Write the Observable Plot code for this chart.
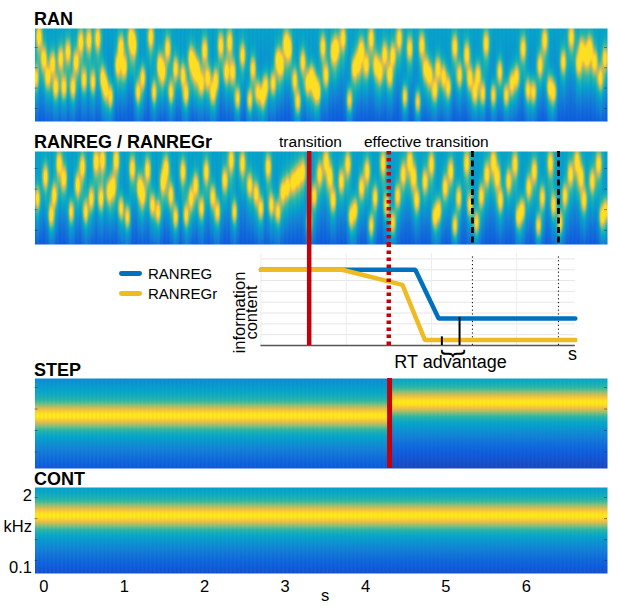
<!DOCTYPE html>
<html><head><meta charset="utf-8">
<script src="https://cdn.jsdelivr.net/npm/d3@7"></script>
<script src="https://cdn.jsdelivr.net/npm/@observablehq/plot@0.6"></script>
<style>
html,body{margin:0;padding:0;background:#fff;}
#fig{position:relative;width:617px;height:606px;overflow:hidden;font-family:"Liberation Sans",Arial,sans-serif;color:#000;}
.t{position:absolute;white-space:nowrap;line-height:1;}
</style></head><body><div id="fig"></div>
<script>
// ---------- data ----------
// RAN: tone pips (time s, frequency kHz)
const ranTimes = [-0.10,-0.06,0.00,0.05,0.11,0.15,0.21,0.25,0.30,0.36,0.40,0.46,0.50,0.56,0.61,0.67,0.73,0.77,0.83,0.92,0.96,1.00,1.08,1.12,1.17,1.23,1.33,1.37,1.44,1.48,1.54,1.58,1.64,1.73,1.77,1.83,1.87,1.91,1.96,2.00,2.04,2.10,2.14,2.20,2.27,
 2.31,2.35,2.41,2.47,2.56,2.60,2.66,2.72,2.76,2.85,2.91,2.95,3.01,3.05,3.12,3.16,3.22,3.28,3.33,3.37,3.41,3.47,3.51,3.60,3.64,3.72,3.80,3.86,3.91,3.95,4.01,4.07,4.13,4.18,4.24,4.30,4.34,4.42,4.49,4.55,4.65,4.70,
 4.75,4.80,4.86,4.90,4.97,5.03,5.11,5.17,5.26,5.30,5.36,5.40,5.46,5.50,5.59,5.67,5.75,5.82,5.88,5.96,6.02,6.09,6.17,6.23,6.29,6.34,6.46,6.56,6.65,6.69,6.75,6.79,6.85,6.92,6.98];
const ranFreqs = [0.70,2.85,1.36,0.73,1.15,0.51,1.36,0.51,1.70,0.51,1.21,2.39,0.65,2.54,0.61,2.69,0.70,0.49,0.37,1.08,2.02,1.02,2.69,2.14,0.43,0.70,2.85,0.43,1.08,0.86,1.91,0.43,0.96,0.77,0.41,1.36,1.02,0.86,0.58,1.81,0.70,0.43,0.65,2.14,0.86,
 2.39,0.86,0.35,1.52,0.33,0.96,0.43,0.37,0.54,0.58,1.28,1.08,2.26,1.91,0.65,0.31,1.21,0.58,0.73,0.51,0.43,2.02,0.77,1.70,1.91,2.69,0.33,0.96,1.21,1.81,1.08,2.69,1.08,0.86,1.57,0.77,1.52,2.69,0.37,1.91,0.31,2.14,
 0.96,0.77,0.46,0.96,0.73,0.51,2.02,0.77,1.57,0.70,0.43,0.77,0.41,2.26,0.39,0.86,0.39,0.58,0.73,1.91,0.46,0.43,1.08,2.54,0.51,0.43,1.21,2.85,1.15,1.81,1.44,1.91,1.21,0.70,1.36];
// RANREG: random part, then repeating cycles
const ranregTimes = [-0.08,0.02,0.09,0.13,0.19,0.25,0.34,0.42,0.48,0.52,0.59,0.65,0.71,0.73,0.81,0.86,0.90,0.96,1.04,1.10,1.19,1.23,1.29,1.35,1.42,1.48,1.52,1.58,1.64,1.73,1.77,1.83,1.89,1.96,2.02,2.10,2.16,2.25,2.33,2.37,2.47,2.56,2.64,2.70,2.79,2.83,2.91,2.97,3.03,3.10,3.16,3.22,
 3.30,3.36,3.43,3.51,3.56,3.60,3.70,3.78,3.82,3.87,3.95,4.02,4.07,4.12,4.22,4.26,
 4.34,4.40,4.47,4.55,4.60,4.64,4.74,4.82,4.86,4.91,4.99,5.06,5.11,5.16,5.26,5.30,
 5.38,5.44,5.51,5.59,5.64,5.68,5.78,5.86,5.90,5.95,6.03,6.10,6.15,6.20,6.30,6.34,
 6.42,6.48,6.55,6.63,6.68,6.72,6.82,6.90,6.94,6.99];
const ranregFreqs = [0.72,1.49,0.41,0.81,2.34,1.41,0.46,1.13,2.09,0.46,0.72,2.47,0.72,2.62,0.90,1.07,2.62,0.52,0.39,1.98,1.07,0.81,1.87,0.58,0.46,1.26,1.98,0.81,0.39,1.77,0.41,0.72,1.13,0.52,1.77,0.76,0.46,1.34,2.62,0.46,2.34,1.13,0.85,0.52,2.09,0.58,0.46,0.90,1.07,1.26,1.49,1.77,
 0.32,0.79,1.63,2.50,1.49,0.68,1.29,2.29,0.39,0.49,1.05,1.81,0.29,0.75,2.36,0.58,
 0.32,0.79,1.63,2.50,1.49,0.68,1.29,2.29,0.39,0.49,1.05,1.81,0.29,0.75,2.36,0.58,
 0.32,0.79,1.63,2.50,1.49,0.68,1.29,2.29,0.39,0.49,1.05,1.81,0.29,0.75,2.36,0.58,
 0.32,0.79,1.63,2.50,1.49,0.68,1.29,2.29,0.39,0.49];
const transitionTime = 3.30;
const effectiveTime = 4.29;
const cycleMarks = [5.33, 6.40];
// STEP and CONT
const stepTime = 4.30;
const stepFreqs = [0.81, 1.24];
const contFreq = 0.88;
const pipDuration = 0.05;
// tick values
const xTicks = [0, 1, 2, 3, 4, 5, 6];
const freqTicks = [2, 1, 0.5, 0.25];
const contTicks = [1.85, 0.77, 0.32, 0.135];
const contLabels = [2, 0.1];
// information content inset
const infoStart = 2.70, infoEnd = 6.61;
const infoGridY = [1, 2, 3, 4, 5, 6, 7, 8];
const infoGridX = [2.70, 3.76, 4.82, 5.88];
const regLineT = [2.70, 4.62, 4.91, 6.61];
const regLineV = [7, 7, 2.5, 2.5];
const regrLineT = [2.70, 3.71, 4.46, 4.74, 6.61];
const regrLineV = [7, 7, 5.6, 0.5, 0.5];
const rtMarkT = [4.95, 5.17];
const rtMarkV = [0.8, 2.6];

// ---------- styling / layout ----------
const parula = ["#352a87","#0f5cdd","#1481d6","#06a4ca","#2eb7a4","#87bf77","#d1bb59","#fec832","#f9fb0e"];
const parulaInterp = d3.piecewise(d3.interpolateRgb, parula);
const RED = "#c4000a", BLUE = "#0072bd", YEL = "#eebb22";
const W = 617, ML = 34.5, MR = 10;
const T0 = -0.11, T1 = 7.01;
const FONT = "'Liberation Sans', Arial, sans-serif";
const fig = document.getElementById("fig");
const sq = a => a * a;

function toneField(times, freqs, oBot, oTop, pxPerOct) {
  const lo = freqs.map(f => Math.log2(f));
  return (t, o) => {
    const yf = (oTop - o) / (oTop - oBot);
    let v = 0.38 - 0.24 * Math.pow(Math.max(0, yf), 1.3);
    let s = 0;
    for (let i = 0; i < times.length; ++i) {
      const dt = t - times[i];
      if (dt > 0.2 || dt < -0.2) continue;
      const dy = (o - lo[i]) * pxPerOct;
      const et = Math.exp(-sq(dt / 0.033));
      const eh = Math.exp(-sq(dt / 0.045));
      s += 0.52 * et * Math.exp(-sq(dy / 10)) + 0.24 * eh * Math.exp(-sq(dy / (dy > 0 ? 18 : 32)));
    }
    v += s;
    v -= 0.03 * (0.5 + 0.5 * Math.cos(2 * Math.PI * t / pipDuration));
    return Math.min(0.93, v);
  };
}
function bandField(centerAt, pxPerOct) {
  return (t, o) => {
    const d = (o - Math.log2(centerAt(t))) * pxPerOct;
    let v = 0.08 + 0.47 * Math.exp(-sq(d / 10.5)) + 0.42 * Math.exp(-sq(d / (d > 0 ? 46 : 38)));
    v -= 0.035 * (0.5 + 0.5 * Math.cos(2 * Math.PI * t / pipDuration));
    return v;
  };
}

function panel({top, height, oBot, oTop, field, ticks, extra = [], axes = false, mb = 0}) {
  const tl = 3 / ((W - ML - MR) / (T1 - T0));
  const marks = [
    Plot.raster({fill: field, x1: T0, x2: T1, y1: oBot, y2: oTop, width: Math.round(W - ML - MR), height}),
    Plot.ruleY(ticks, {y: d => Math.log2(d), x1: T0, x2: T0 + tl, stroke: "#333", strokeOpacity: 0.55}),
    Plot.ruleY(ticks, {y: d => Math.log2(d), x1: T1 - tl, x2: T1, stroke: "#333", strokeOpacity: 0.55}),
    ...extra
  ];
  if (axes) {
    marks.push(
      Plot.axisX(xTicks, {anchor: "bottom", tickSize: 0, tickPadding: 7, fontSize: 16.5, label: null, tickFormat: d => String(d)}),
      Plot.axisY(contLabels.map(Math.log2), {anchor: "left", tickSize: 0, tickPadding: 3, fontSize: 16.5, label: null, tickFormat: d => String(+Math.pow(2, d).toFixed(2))})
    );
  }
  const svg = Plot.plot({
    width: W, height: height + mb, marginLeft: ML, marginRight: MR, marginTop: 0, marginBottom: mb,
    x: {domain: [T0, T1], axis: null},
    y: {domain: [oBot, oTop], axis: null},
    color: {type: "linear", domain: [0, 1], interpolate: parulaInterp, clamp: true},
    style: {fontFamily: FONT, color: "black", background: "transparent", position: "absolute", left: "0px", top: top + "px", overflow: "visible"},
    marks
  });
  fig.appendChild(svg);
}

// RAN
panel({top: 28, height: 93, oBot: -2.645, oTop: 1.936, ticks: freqTicks,
  field: toneField(ranTimes, ranFreqs, -2.645, 1.936, 93 / (1.936 + 2.645))});
// RANREG
panel({top: 151, height: 93, oBot: -2.689, oTop: 1.825, ticks: freqTicks,
  field: toneField(ranregTimes, ranregFreqs, -2.689, 1.825, 93 / (1.825 + 2.689)),
  extra: [
    Plot.ruleX([transitionTime], {stroke: RED, strokeWidth: 4.5}),
    Plot.ruleX([effectiveTime], {stroke: RED, strokeWidth: 4.5, strokeDasharray: "3.5,3.5"}),
    Plot.ruleX(cycleMarks, {stroke: "#000", strokeWidth: 2.8, strokeDasharray: "6,3.5"})
  ]});
// STEP
panel({top: 378, height: 90, oBot: -2.767, oTop: 1.419, ticks: freqTicks,
  field: bandField(t => t < stepTime ? stepFreqs[0] : stepFreqs[1], 90 / (1.419 + 2.767)),
  extra: [Plot.ruleX([stepTime], {stroke: RED, strokeWidth: 5})]});
// CONT
panel({top: 487, height: 86, oBot: -3.663, oTop: 1.487, ticks: contTicks, axes: true, mb: 33,
  field: bandField(t => contFreq, 86 / (1.487 + 3.663))});

// inset: information content
const regLine = regLineT.map((t, i) => ({t, v: regLineV[i]}));
const regrLine = regrLineT.map((t, i) => ({t, v: regrLineV[i]}));
const rtMarks = rtMarkT.map((t, i) => ({t, v: rtMarkV[i]}));
const inset = Plot.plot({
  width: W, height: 131, marginLeft: ML, marginRight: MR, marginTop: 9, marginBottom: 30,
  x: {domain: [T0, T1], axis: null},
  y: {domain: [0, 8.5], axis: null},
  style: {fontFamily: FONT, color: "black", background: "transparent", position: "absolute", left: "0px", top: "244px", overflow: "visible"},
  marks: [
    Plot.ruleY(infoGridY, {x1: infoStart, x2: infoEnd, stroke: "#e6e6e6", strokeWidth: 1}),
    Plot.ruleX(infoGridX, {y1: 0, y2: 8.5, stroke: "#ededed", strokeWidth: 1}),
    Plot.ruleX(cycleMarks, {y1: 0, y2: 8.3, stroke: "#000", strokeWidth: 1, strokeDasharray: "1.2,2.6"}),
    Plot.ruleY([0], {x1: infoStart, x2: infoEnd, stroke: "#555", strokeWidth: 1.5}),
    Plot.line(regLine, {x: "t", y: "v", stroke: BLUE, strokeWidth: 4.5, strokeLinejoin: "miter"}),
    Plot.line(regrLine, {x: "t", y: "v", stroke: YEL, strokeWidth: 4.5, strokeLinejoin: "miter"}),
    Plot.ruleX(rtMarks, {x: "t", y1: 0, y2: "v", stroke: "#000", strokeWidth: 2}),
    Plot.ruleX([transitionTime], {y1: 0, y2: 9.35, stroke: RED, strokeWidth: 4.5}),
    Plot.ruleX([effectiveTime], {y1: 0, y2: 9.35, stroke: RED, strokeWidth: 4.5, strokeDasharray: "3.5,3.5"})
  ]
});
fig.appendChild(inset);

// ---------- text ----------
function txt(s, css) {
  const d = document.createElement("div");
  d.className = "t";
  d.innerHTML = s;
  d.style.cssText += css;
  fig.appendChild(d);
  return d;
}
txt("RAN", "left:34px;top:9.8px;font-weight:bold;font-size:18px;");
txt("RANREG / RANREGr", "left:34px;top:132.8px;font-weight:bold;font-size:18px;");
txt("STEP", "left:34px;top:360.8px;font-weight:bold;font-size:18px;");
txt("CONT", "left:34px;top:469.8px;font-weight:bold;font-size:18px;");
txt("transition", "left:310.5px;top:134.4px;font-size:15.5px;transform:translateX(-50%);");
txt("effective transition", "left:364px;top:134.4px;font-size:15.5px;");
// legend
txt("", "left:119px;top:271px;width:23px;height:4.8px;background:" + BLUE + ";border-radius:2.4px;");
txt("", "left:119px;top:291px;width:23px;height:4.8px;background:" + YEL + ";border-radius:2.4px;");
txt("RANREG", "left:148px;top:266px;font-size:15px;");
txt("RANREGr", "left:148px;top:286px;font-size:15px;");
// y label of inset
txt("information<br>content", "left:203px;top:300.5px;width:84px;height:23px;font-size:16.5px;line-height:11.5px;text-align:center;transform:rotate(-90deg);transform-origin:42px 11.5px;");
// RT advantage
txt("{", "left:440.5px;top:341px;width:20px;height:25px;font-size:25px;line-height:25px;text-align:center;transform:rotate(-90deg);transform-origin:10px 12.5px;");
txt("RT advantage", "left:450.5px;top:352.8px;font-size:18px;transform:translateX(-50%);");
txt("s", "left:572.5px;top:344.8px;font-size:18px;transform:translateX(-50%);");
// axis labels
txt("s", "left:325px;top:587px;font-size:16.5px;transform:translateX(-50%);");
txt("kHz", "left:32px;top:517.7px;font-size:16.5px;transform:translateX(-100%);");
</script></body></html>
